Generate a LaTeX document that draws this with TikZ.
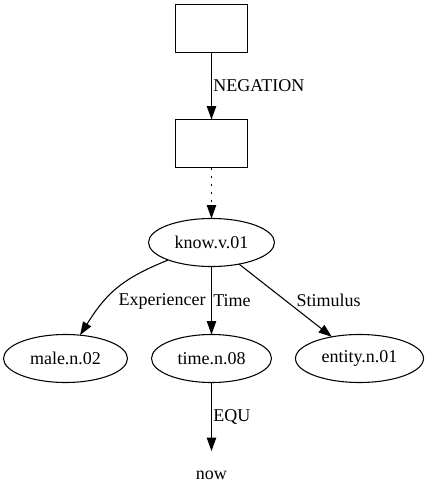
\documentclass[tikz,border=0pt]{standalone}
\usepackage{fontspec}
\setmainfont{Liberation Serif}
\usetikzlibrary{positioning,arrows.meta,shapes.geometric}

\begin{document}
\begin{tikzpicture} [auto, >={Triangle[length=10pt,width=7pt]}, thick,
                    font=\fontsize{13.5}{16}\selectfont,
                    laatikko/.style={rectangle,draw,outer sep=0pt,minimum width=54pt,minimum height=36pt},
                    soikio/.style={ellipse,draw,outer sep=0pt,inner sep=0pt,minimum height=36pt},
                    sana/.style={outer sep=0pt,minimum height=36pt}]

\node[laatikko] (top) {};
\node[laatikko] (neg) [below=50.25pt of top] {};
\node[soikio, minimum width=94.5pt] (know) [below=38.25pt of neg] {know.v.01};
\node[soikio, minimum width=90pt] (time) [below=51pt of know] {time.n.08};
\node[soikio, minimum width=93pt] (male) [left=18pt of time] {male.n.02};
\node[soikio, minimum width=96pt] (entity) [right=18pt of time] {entity.n.01};
\node[sana] (now) [below=51.4pt of time] {now};

\useasboundingbox (-158.625pt,21.375pt) rectangle (163.875pt,-356.625pt);

 \path[->, every node/.style={inner sep=1pt}]
    (top) edge node[right] {NEGATION} (neg)
    (neg) edge[dash pattern=on 1.5pt off 4.5pt] (know)
    (know) edge[out=202, in=58, looseness=1.1] node[pos=0.5, anchor=north west, yshift=-2pt] {Experiencer} (male)
    (know) edge node[right] {Time} (time)
    (know) edge node[right, xshift=7pt] {Stimulus} (entity)
    (time) edge node[right] {EQU} (now);
\end{tikzpicture}
\end{document}
